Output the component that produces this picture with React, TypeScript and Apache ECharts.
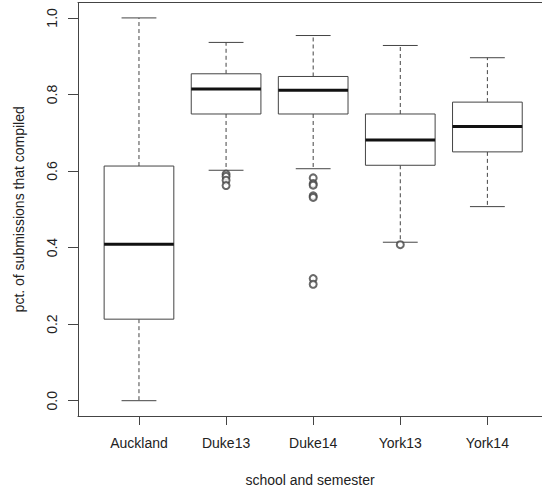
import React, { useEffect, useRef } from "react";
import * as echarts from "echarts";

const categories = ["Auckland", "Duke13", "Duke14", "York13", "York14"];
const lowWhisker = [0.0, 0.602, 0.606, 0.414, 0.507];
const q1 = [0.213, 0.749, 0.749, 0.615, 0.65];
const median = [0.409, 0.814, 0.811, 0.681, 0.716];
const q3 = [0.613, 0.854, 0.847, 0.749, 0.78];
const highWhisker = [1.0, 0.936, 0.954, 0.928, 0.896];
const outlierGroup = [1, 1, 1, 1, 2, 2, 2, 2, 2, 2, 2, 3];
const outlierValue = [0.592, 0.586, 0.576, 0.562, 0.582, 0.567, 0.563, 0.535, 0.531, 0.319, 0.304, 0.4075];
const yTicks = [0, 0.2, 0.4, 0.6, 0.8, 1.0];
const xTicks = [1, 2, 3, 4, 5];

const FONT = "Liberation Sans";
const INK = "#444";

export default function App() {
  const ref = useRef<HTMLDivElement>(null);
  useEffect(() => {
    document.body.style.margin = "0";
    const chart = echarts.init(ref.current!, null, { renderer: "svg" });
    const boxData = categories.map((_, i) => [
      i + 1,
      lowWhisker[i],
      q1[i],
      median[i],
      q3[i],
      highWhisker[i],
    ]);
    const outliers = outlierValue.map((v, i) => [outlierGroup[i] + 1, v]);
    const frameLine = { show: true, onZero: false, lineStyle: { color: INK, width: 1 } };
    chart.setOption({
      animation: false,
      backgroundColor: "#fff",
      grid: {
        left: 78,
        right: 0,
        top: 2.6,
        bottom: 72.6,
        show: false,
      },
      xAxis: [
        {
          type: "value",
          min: 0.3,
          max: 5.627,
          position: "bottom",
          name: "school and semester",
          nameLocation: "middle",
          nameGap: 57,
          nameTextStyle: { fontFamily: FONT, fontSize: 14, color: "#222" },
          axisLine: frameLine,
          splitLine: { show: false },
          axisTick: {
            show: true,
            inside: false,
            customValues: xTicks,
            length: 9,
            lineStyle: { color: INK, width: 1 },
          },
          axisLabel: {
            customValues: xTicks,
            formatter: (v: number) => categories[Math.round(v) - 1] ?? "",
            fontFamily: FONT,
            fontSize: 14,
            color: "#222",
            margin: 20,
          },
        },
        {
          type: "value",
          min: 0.3,
          max: 5.627,
          position: "top",
          axisLine: frameLine,
          splitLine: { show: false },
          axisTick: { show: false },
          axisLabel: { show: false },
        },
      ],
      yAxis: {
        type: "value",
        min: -0.04,
        max: 1.04,
        position: "left",
        name: "pct. of submissions that compiled",
        nameLocation: "middle",
        nameGap: 52,
        nameTextStyle: { fontFamily: FONT, fontSize: 14, color: "#222" },
        axisLine: frameLine,
        splitLine: { show: false },
        axisTick: {
          show: true,
          inside: false,
          customValues: yTicks,
          length: 10,
          lineStyle: { color: INK, width: 1 },
        },
        axisLabel: {
          customValues: yTicks,
          formatter: (v: number) => v.toFixed(1),
          rotate: 90,
          fontFamily: FONT,
          fontSize: 14,
          color: "#222",
          margin: 19,
        },
      },
      series: [
        {
          type: "custom",
          xAxisIndex: 0,
          data: boxData,
          encode: { x: 0, y: [1, 2, 3, 4, 5] },
          renderItem: (params: any, api: any) => {
            const x = api.value(0);
            const lo = api.coord([x, api.value(1)]);
            const b1 = api.coord([x, api.value(2)]);
            const md = api.coord([x, api.value(3)]);
            const b3 = api.coord([x, api.value(4)]);
            const hi = api.coord([x, api.value(5)]);
            const half = api.size([0.4, 0])[0];
            const cap = api.size([0.2, 0])[0];
            const cx = lo[0];
            const dash = { stroke: INK, lineWidth: 1, lineDash: [4, 3] };
            const solid = { stroke: INK, lineWidth: 1 };
            return {
              type: "group",
              children: [
                { type: "line", shape: { x1: cx, y1: b3[1], x2: cx, y2: hi[1] }, style: dash },
                { type: "line", shape: { x1: cx, y1: b1[1], x2: cx, y2: lo[1] }, style: dash },
                { type: "line", shape: { x1: cx - cap, y1: hi[1], x2: cx + cap, y2: hi[1] }, style: solid },
                { type: "line", shape: { x1: cx - cap, y1: lo[1], x2: cx + cap, y2: lo[1] }, style: solid },
                {
                  type: "rect",
                  shape: { x: cx - half, y: b3[1], width: 2 * half, height: b1[1] - b3[1] },
                  style: { fill: "#fff", stroke: INK, lineWidth: 1 },
                },
                {
                  type: "line",
                  shape: { x1: cx - half, y1: md[1], x2: cx + half, y2: md[1] },
                  style: { stroke: "#111", lineWidth: 3 },
                },
              ],
            };
          },
        },
        {
          type: "scatter",
          xAxisIndex: 0,
          data: outliers,
          symbol: "emptyCircle",
          symbolSize: 7,
          itemStyle: { color: INK, borderColor: INK, borderWidth: 1 },
        },
      ],
    });
    return () => chart.dispose();
  }, []);
  return <div ref={ref} style={{ width: 542, height: 492 }} />;
}
